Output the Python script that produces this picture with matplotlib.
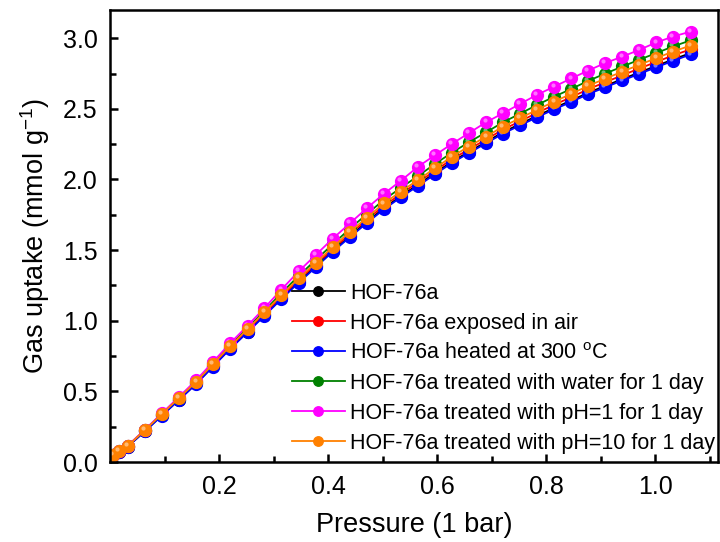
import numpy as np
import matplotlib
matplotlib.use('Agg')
import matplotlib.pyplot as plt
import matplotlib.colors as mcolors
from matplotlib.transforms import offset_copy

plt.rcParams['font.family'] = ['Liberation Sans', 'DejaVu Sans']
plt.rcParams['mathtext.default'] = 'regular'

# pressure (bar)
pressure = [0.005, 0.016, 0.032, 0.064, 0.095, 0.126, 0.158, 0.189, 0.220, 0.252,
            0.283, 0.314, 0.346, 0.377, 0.408, 0.440, 0.471, 0.502, 0.533, 0.565,
            0.596, 0.627, 0.658, 0.690, 0.721, 0.752, 0.783, 0.815, 0.846, 0.877,
            0.908, 0.940, 0.971, 1.002, 1.033, 1.065]

# gas uptake (mmol/g)
hof = [0.048, 0.072, 0.109, 0.220, 0.331, 0.441, 0.556, 0.680, 0.804, 0.923,
       1.040, 1.159, 1.277, 1.385, 1.494, 1.600, 1.700, 1.796, 1.882, 1.964,
       2.046, 2.126, 2.196, 2.266, 2.335, 2.393, 2.450, 2.507, 2.559, 2.614,
       2.662, 2.711, 2.758, 2.804, 2.850, 2.895]
air = [0.049, 0.074, 0.111, 0.224, 0.336, 0.447, 0.563, 0.688, 0.813, 0.932,
       1.050, 1.170, 1.289, 1.398, 1.507, 1.615, 1.716, 1.813, 1.897, 1.980,
       2.062, 2.143, 2.213, 2.284, 2.354, 2.412, 2.471, 2.529, 2.583, 2.639,
       2.688, 2.738, 2.786, 2.832, 2.879, 2.921]
heated = [0.048, 0.072, 0.108, 0.218, 0.328, 0.438, 0.553, 0.676, 0.800, 0.918,
          1.035, 1.153, 1.270, 1.378, 1.487, 1.592, 1.692, 1.788, 1.873, 1.955,
          2.037, 2.117, 2.187, 2.257, 2.325, 2.383, 2.440, 2.497, 2.549, 2.604,
          2.652, 2.701, 2.748, 2.794, 2.840, 2.885]
water = [0.050, 0.075, 0.114, 0.228, 0.342, 0.455, 0.573, 0.700, 0.827, 0.950,
         1.070, 1.195, 1.318, 1.430, 1.540, 1.652, 1.755, 1.855, 1.940, 2.025,
         2.110, 2.190, 2.263, 2.335, 2.405, 2.466, 2.527, 2.587, 2.641, 2.698,
         2.749, 2.800, 2.848, 2.895, 2.942, 2.985]
ph1 = [0.050, 0.075, 0.115, 0.230, 0.345, 0.460, 0.580, 0.710, 0.840, 0.965,
       1.090, 1.220, 1.350, 1.465, 1.580, 1.690, 1.797, 1.898, 1.990, 2.091,
       2.172, 2.252, 2.328, 2.406, 2.469, 2.535, 2.599, 2.658, 2.715, 2.771,
       2.824, 2.870, 2.918, 2.970, 3.012, 3.047]
ph10 = [0.050, 0.075, 0.113, 0.227, 0.340, 0.452, 0.569, 0.694, 0.820, 0.940,
        1.060, 1.180, 1.300, 1.410, 1.520, 1.630, 1.730, 1.830, 1.914, 1.997,
        2.080, 2.162, 2.233, 2.304, 2.375, 2.434, 2.493, 2.552, 2.606, 2.663,
        2.713, 2.764, 2.812, 2.859, 2.906, 2.948]

series = [hof, air, heated, water, ph1, ph10]
labels = ['HOF-76a',
          'HOF-76a exposed in air',
          r'HOF-76a heated at 300 $^{o}$C',
          'HOF-76a treated with water for 1 day',
          'HOF-76a treated with pH=1 for 1 day',
          'HOF-76a treated with pH=10 for 1 day']
colors = ['#000000', '#ff0000', '#0000ff', '#008000', '#ff00ff', '#ff8000']

fig = plt.figure(figsize=(7.2, 5.42), dpi=100)
ax = fig.add_axes([0.153, 0.1476, 0.844, 0.834])

hl = offset_copy(ax.transData, fig=fig, x=-1.2, y=1.4, units='points')
for y, lab, c in zip(series, labels, colors):
    ax.plot(pressure, y, '-o', color=c, lw=1.3, ms=8.5, mec=c, label=lab)
    # glossy highlight on the spheres
    light = mcolors.to_rgb(c)
    light = tuple(0.55 * v + 0.45 for v in light)
    ax.plot(pressure, y, 'o', color=light, ms=3, mec='none', transform=hl)

ax.set_xlim(0, 1.115)
ax.set_ylim(0, 3.2)
ax.set_xticks([0.2, 0.4, 0.6, 0.8, 1.0])
ax.set_xticks(np.arange(0.1, 1.15, 0.2), minor=True)
ax.set_yticks(np.arange(0, 3.01, 0.5))
ax.set_yticks(np.arange(0.25, 3.2, 0.5), minor=True)
ax.tick_params(direction='in', which='major', length=6, width=1.8, labelsize=18, pad=9)
ax.tick_params(direction='in', which='minor', length=4, width=1.8)
for s in ax.spines.values():
    s.set_linewidth(1.8)

ax.set_xlabel('Pressure (1 bar)', fontsize=19.5, labelpad=10)
ax.set_ylabel('Gas uptake (mmol g$^{-1}$)', fontsize=19.5, labelpad=8)

ax.legend(loc='lower left', bbox_to_anchor=(0.299, 0.018), frameon=False, fontsize=15.5,
          handlelength=2.45, handletextpad=0.25, labelspacing=0.42, markerscale=0.8,
          borderaxespad=0, borderpad=0)

fig.savefig('out.png', dpi=100)
